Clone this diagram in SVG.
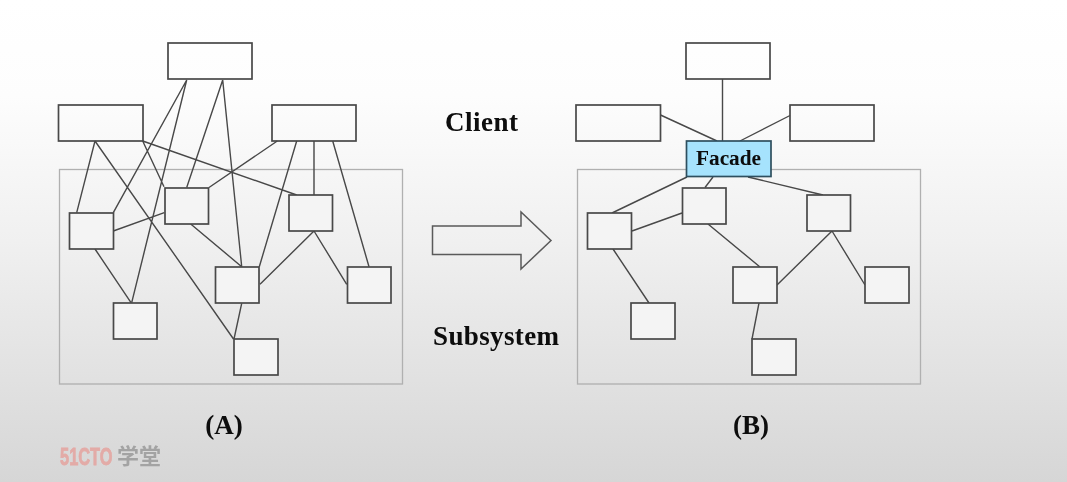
<svg xmlns="http://www.w3.org/2000/svg" width="1067" height="482" viewBox="0 0 1067 482">
<style>
.cl{fill:none;stroke:#484848;stroke-width:1.4}
.sys{fill:none;stroke:#b0b0b0;stroke-width:1.3}
.big{fill:none;stroke:#484848;stroke-width:1.7}
.small{fill:#f4f4f4;stroke:#484848;stroke-width:1.7}
.t{font-family:"Liberation Serif","Times New Roman",serif;font-weight:bold;font-size:27px;fill:#0a0a0a}
</style>
<defs>
<linearGradient id="bg" x1="0" y1="0" x2="0" y2="1">
<stop offset="0" stop-color="#ffffff"/>
<stop offset="0.2" stop-color="#fdfdfd"/>
<stop offset="0.5" stop-color="#f0f0f0"/>
<stop offset="1" stop-color="#d6d6d6"/>
</linearGradient>
<filter id="soft" x="0" y="0" width="1" height="1" filterUnits="objectBoundingBox"><feGaussianBlur stdDeviation="0.45"/></filter>
</defs>
<rect width="1067" height="482" fill="url(#bg)"/>
<g filter="url(#soft)">
<rect width="1067" height="482" fill="none"/>
<rect id="subsystem-a" class="sys" x="59.5" y="169.5" width="343" height="214.5"/>
<rect id="subsystem-b" class="sys" x="577.5" y="169.5" width="343" height="214.5"/>
<g id="connectors">
<path class="cl" d="M186.7 80L113.3 212.7M186.7 80L131.7 302.7M222.7 80L186.7 187.5M222.7 80L241.7 266.7M95 141L76.7 212.7M95 141L233.5 339M142.7 141L164 186.7M142.7 141L296.7 195M277.3 141L209 187.5M296.7 141L259.3 266.7M314 141V195M332.7 141L369 266.7M113.3 231L164.3 212.7M190.7 224L241.7 266.7M314 231L260 284.3M314 231L346.7 284.3M95 249L131 302.7M241.7 303.3L234 339"/>
<path class="cl" d="M722.5 79V141M660.5 115L717 141M790 115.5L740 141M687 177L612 213M713 177L705 187.5M748 177L823 195M632 231L682 213M708 224L760 267M832 231L777 285M832 231L865 285M613 249L649 303M759 303L752 339"/>
</g>
<g id="a-client-top"><rect class="big" x="168" y="43" width="84" height="36"/></g>
<g id="a-client-left"><rect class="big" x="58.5" y="105" width="84.5" height="36"/></g>
<g id="a-client-right"><rect class="big" x="272" y="105" width="84" height="36"/></g>
<g id="a-sub-1"><rect class="small" x="69.5" y="213" width="44" height="36"/></g>
<g id="a-sub-2"><rect class="small" x="165" y="188" width="43.5" height="36"/></g>
<g id="a-sub-3"><rect class="small" x="289" y="195" width="43.5" height="36"/></g>
<g id="a-sub-4"><rect class="small" x="215.5" y="267" width="43.5" height="36"/></g>
<g id="a-sub-5"><rect class="small" x="347.5" y="267" width="43.5" height="36"/></g>
<g id="a-sub-6"><rect class="small" x="113.5" y="303" width="43.5" height="36"/></g>
<g id="a-sub-7"><rect class="small" x="234" y="339" width="44" height="36"/></g>
<g id="b-client-top"><rect class="big" x="686" y="43" width="84" height="36"/></g>
<g id="b-client-left"><rect class="big" x="576" y="105" width="84.5" height="36"/></g>
<g id="b-client-right"><rect class="big" x="790" y="105" width="84" height="36"/></g>
<g id="b-facade"><rect x="686.5" y="141" width="84.5" height="35.5" fill="#a6e3fd" stroke="#2f4f5f" stroke-width="1.7"/>
<text class="t" x="728.5" y="165" text-anchor="middle" style="font-size:21.3px">Facade</text></g>
<g id="b-sub-1"><rect class="small" x="587.5" y="213" width="44" height="36"/></g>
<g id="b-sub-2"><rect class="small" x="682.5" y="188" width="43.5" height="36"/></g>
<g id="b-sub-3"><rect class="small" x="807" y="195" width="43.5" height="36"/></g>
<g id="b-sub-4"><rect class="small" x="733" y="267" width="44" height="36"/></g>
<g id="b-sub-5"><rect class="small" x="865" y="267" width="44" height="36"/></g>
<g id="b-sub-6"><rect class="small" x="631" y="303" width="44" height="36"/></g>
<g id="b-sub-7"><rect class="small" x="752" y="339" width="44" height="36"/></g>
<g id="arrow"><path d="M432.5 226H521V212L551 240.5L521 269V254.5H432.5Z" fill="none" stroke="#5a5a5a" stroke-width="1.5"/></g>
<text class="t" x="445" y="131" textLength="73" lengthAdjust="spacing">Client</text>
<text class="t" x="433" y="345" textLength="126" lengthAdjust="spacing">Subsystem</text>
<text class="t" x="224" y="434" text-anchor="middle">(A)</text>
<text class="t" x="751" y="434" text-anchor="middle">(B)</text>
<text transform="translate(60 465) scale(0.67 1)" style="font-family:'Liberation Sans',Arial,sans-serif;font-weight:bold;font-size:24.5px;fill:#e3aba7;stroke:#e3aba7;stroke-width:0.8">51CTO</text>
<text x="117" y="464" style="font-family:'Noto Sans CJK SC',sans-serif;font-weight:bold;font-size:22px;fill:#a3a3a3">学堂</text>
</g>
</svg>
